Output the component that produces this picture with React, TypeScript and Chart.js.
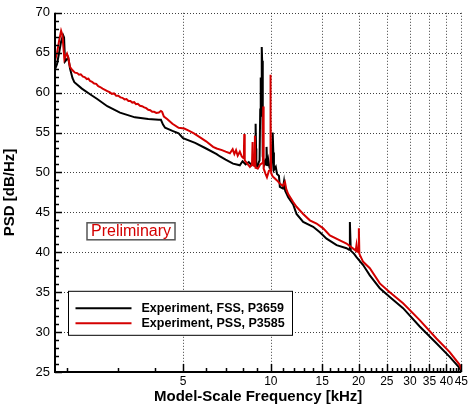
import React, { useEffect, useRef } from 'react';
import { Chart, registerables } from 'chart.js';

Chart.register(...registerables);

// ---- Data (frequency in kHz, PSD in dB/Hz) ----
const fssFreq = [
  1.82, 1.85, 1.88, 1.91, 1.94, 1.955, 1.97, 2.0, 2.02, 2.05, 2.09, 2.12, 2.25, 2.4, 2.54, 2.75, 3.04, 3.42, 3.8,
  4.13, 4.2, 4.27, 4.34, 4.6, 4.83, 5.0, 5.5, 6.0, 6.52, 6.7, 7.0, 7.42, 7.64, 7.83, 8.0, 8.2, 8.4, 8.6, 8.75,
  8.82, 8.85, 8.87, 8.9, 8.92, 9.0, 9.1, 9.15, 9.2, 9.22, 9.25, 9.28, 9.31, 9.34, 9.37, 9.4, 9.5, 9.6, 9.63, 9.67,
  9.72, 9.8, 9.9, 10.05, 10.12, 10.15, 10.2, 10.25, 10.4, 10.5, 10.66, 10.74, 11.0, 11.1, 11.2, 11.47, 11.93,
  12.25, 12.91, 13.97, 14.73, 15.53, 16.81, 18.18, 18.55, 18.67, 18.8, 19.3, 19.67, 20.73, 21.85, 23.64, 25.58,
  28.41, 32.4, 36.97, 41.06, 44.42, 45,
];
const fssPsd = [
  62.9, 63.6, 65.0, 66.4, 67.2, 66.9, 63.9, 64.2, 64.4, 63.0, 61.8, 61.3, 60.5, 59.8, 59.2, 58.3, 57.5, 56.9, 56.7,
  56.6, 56.6, 56.0, 55.6, 55.2, 54.9, 54.3, 53.7, 53.0, 52.3, 52.0, 51.6, 51.1, 51.0, 50.9, 51.4, 51.0, 51.3, 50.9, 51.2,
  51.5, 54.5, 56.1, 53.0, 51.0, 50.7, 51.3, 51.5, 58.0, 61.9, 57.0, 60.0, 65.7, 64.0, 56.0, 52.0, 51.0, 51.5, 51.0, 53.2,
  50.8, 51.6, 50.6, 50.4, 53.5, 55.0, 52.5, 50.3, 50.7, 49.8, 49.6, 48.2, 48.0, 48.9, 47.7, 46.9, 46.0,
  44.8, 43.8, 43.2, 42.5, 41.7, 40.9, 40.5, 40.3, 43.8, 40.2, 39.8, 39.4, 38.4, 37.1, 35.5, 34.4,
  33.0, 30.7, 28.6, 26.9, 25.5, 25.0,
];

const pssFreq = [
  1.82, 1.85, 1.88, 1.91, 1.93, 1.96, 1.98, 2.0, 2.02, 2.05, 2.09, 2.13, 2.17, 2.2, 2.23, 2.27, 2.3, 2.34, 2.37,
  2.4, 2.44, 2.48, 2.52, 2.56, 2.6, 2.65, 2.7, 2.75, 2.8, 2.85, 2.9, 2.95, 3.0, 3.05, 3.1, 3.15, 3.2, 3.25, 3.3,
  3.35, 3.4, 3.45, 3.5, 3.56, 3.62, 3.68, 3.74, 3.8, 3.86, 3.92, 3.98, 4.05, 4.13, 4.2, 4.24, 4.3, 4.41, 4.6,
  4.83, 5.05, 5.23, 5.45, 5.72, 6.0, 6.34, 6.52, 6.8, 7.0, 7.24, 7.4, 7.5, 7.6, 7.7, 7.83, 7.95, 8.05, 8.09,
  8.11, 8.13, 8.15, 8.3, 8.48, 8.62, 8.66, 8.7, 8.78, 8.82, 8.86, 9.03, 9.2, 9.38, 9.4, 9.42, 9.44, 9.46, 9.6,
  9.7, 9.85, 9.94, 9.96, 9.98, 10.0, 10.03, 10.15, 10.33, 10.5, 10.74, 11.0, 11.18, 11.3, 11.47, 11.93, 12.25,
  12.91, 13.61, 14.35, 15.12, 15.94, 17.25, 18.18, 19.41, 19.55, 19.67, 19.8, 19.97, 20.04, 20.12, 20.73,
  21.85, 23.64, 25.58, 28.41, 32.4, 36.97, 41.06, 44.42, 45,
];
const pssPsd = [
  64.0, 65.0, 66.5, 67.75, 67.2, 64.2, 64.6, 64.9, 64.4, 63.2, 62.8, 62.5, 62.45, 62.25, 62.3, 62.0, 61.95, 61.7, 61.75,
  61.45, 61.35, 61.15, 61.1, 60.8, 60.7, 60.5, 60.35, 60.2, 60.05, 59.85, 59.9, 59.6, 59.6, 59.4, 59.35, 59.15, 59.2, 58.95, 58.95,
  58.75, 58.8, 58.55, 58.6, 58.35, 58.3, 58.15, 58.05, 57.85, 57.8, 57.6, 57.6, 57.45, 57.5, 57.7, 57.6, 57.0, 56.7, 56.1,
  55.6, 55.5, 55.25, 54.9, 54.4, 53.9, 53.2, 53.0, 52.8, 52.6, 52.4, 52.9, 52.3, 52.8, 52.1, 52.6, 52.0, 51.8, 53.0,
  54.8, 52.5, 51.5, 51.1, 50.7, 51.0, 53.8, 50.9, 50.8, 54.6, 50.6, 50.5, 51.0, 51.2, 56.0, 58.25, 55.0, 50.5, 49.8,
  49.4, 50.2, 50.3, 58.0, 62.25, 57.0, 49.9, 49.5, 49.25, 49.0, 48.6, 48.3, 48.8, 47.9, 47.3, 46.3, 45.7,
  44.8, 44.0, 43.6, 43.0, 42.1, 41.5, 41.1, 40.3, 40.2, 40.9, 40.1, 40.0, 43.0, 39.8, 38.8,
  38.0, 36.1, 35.0, 33.6, 31.5, 29.2, 27.5, 25.9, 25.3,
];

const seriesLabels = ['Experiment, FSS, P3659', 'Experiment, PSS, P3585'];
const seriesColors = ['#000000', '#d40000'];

const xMin = 1.82;
const xMax = 45;
const yMin = 25;
const yMax = 70;
const xLabelTicks = [5, 10, 15, 20, 25, 30, 35, 40, 45];
const xMinorTicks = [2, 3, 4, 6, 7, 8, 9, 11, 12, 13, 14, 16, 17, 18, 19, 21, 22, 23, 24, 26, 27, 28, 29, 31, 32, 33, 34, 36, 37, 38, 39, 41, 42, 43, 44];
const yMajorTicks = [25, 30, 35, 40, 45, 50, 55, 60, 65, 70];
const yMinorTicks = [26, 27, 28, 29, 31, 32, 33, 34, 36, 37, 38, 39, 41, 42, 43, 44, 46, 47, 48, 49, 51, 52, 53, 54, 56, 57, 58, 59, 61, 62, 63, 64, 66, 67, 68, 69];

const xTitle = 'Model-Scale Frequency [kHz]';
const yTitle = 'PSD [dB/Hz]';
const watermark = 'Preliminary';

const FONT = '"Liberation Sans", Arial, Helvetica, sans-serif';

const decorPlugin = {
  id: 'decor',
  beforeDatasetsDraw(chart: any) {
    const { ctx, chartArea } = chart;
    const xs = chart.scales.x;
    const ys = chart.scales.y;
    ctx.save();
    ctx.strokeStyle = 'rgba(0,0,0,0.75)';
    ctx.lineWidth = 1;
    ctx.setLineDash([1, 2]);
    xLabelTicks.forEach((v) => {
      const px = Math.round(xs.getPixelForValue(v)) + 0.5;
      ctx.beginPath();
      ctx.moveTo(px, chartArea.top);
      ctx.lineTo(px, chartArea.bottom);
      ctx.stroke();
    });
    yMajorTicks.forEach((v) => {
      if (v === yMin) return;
      const py = Math.round(ys.getPixelForValue(v)) + 0.5;
      ctx.beginPath();
      ctx.moveTo(chartArea.left, py);
      ctx.lineTo(chartArea.right, py);
      ctx.stroke();
    });
    ctx.restore();
  },
  afterDatasetsDraw(chart: any) {
    const { ctx, chartArea } = chart;
    const xs = chart.scales.x;
    const ys = chart.scales.y;
    ctx.save();
    ctx.setLineDash([]);
    ctx.strokeStyle = '#000';
    ctx.lineWidth = 2;
    ctx.beginPath();
    ctx.moveTo(chartArea.left, chartArea.top);
    ctx.lineTo(chartArea.left, chartArea.bottom);
    ctx.lineTo(chartArea.right, chartArea.bottom);
    ctx.stroke();
    ctx.lineWidth = 1.5;
    const yTick = (v: number, len: number) => {
      const py = Math.round(ys.getPixelForValue(v)) + 0.5;
      ctx.beginPath();
      ctx.moveTo(chartArea.left, py);
      ctx.lineTo(chartArea.left + len, py);
      ctx.stroke();
    };
    const xTick = (v: number, len: number) => {
      const px = Math.round(xs.getPixelForValue(v)) + 0.5;
      ctx.beginPath();
      ctx.moveTo(px, chartArea.bottom);
      ctx.lineTo(px, chartArea.bottom - len);
      ctx.stroke();
    };
    yMajorTicks.forEach((v) => yTick(v, 7));
    yMinorTicks.forEach((v) => yTick(v, 4));
    xLabelTicks.forEach((v) => xTick(v, 8));
    xMinorTicks.forEach((v) => xTick(v, 4));

    // watermark
    ctx.font = `16px ${FONT}`;
    const wx = chartArea.left + 32;
    const wy = chartArea.top + 210;
    const ww = ctx.measureText(watermark).width;
    ctx.fillStyle = '#fff';
    ctx.fillRect(wx, wy, ww + 8, 17);
    ctx.strokeStyle = '#555';
    ctx.lineWidth = 1.5;
    ctx.strokeRect(wx, wy, ww + 8, 17);
    ctx.fillStyle = '#d40000';
    ctx.textBaseline = 'middle';
    ctx.textAlign = 'left';
    ctx.fillText(watermark, wx + 4, wy + 9);

    // legend
    const lx = chartArea.left + 13.5;
    const ly = chartArea.top + 278.5;
    const lw = 224;
    const lh = 44;
    ctx.fillStyle = '#fff';
    ctx.fillRect(lx, ly, lw, lh);
    ctx.strokeStyle = '#000';
    ctx.lineWidth = 1;
    ctx.strokeRect(lx, ly, lw, lh);
    ctx.font = `bold 12.5px ${FONT}`;
    seriesLabels.forEach((lab, i) => {
      const yy = ly + 17 + i * 15;
      ctx.strokeStyle = seriesColors[i];
      ctx.lineWidth = 2;
      ctx.beginPath();
      ctx.moveTo(lx + 7, yy);
      ctx.lineTo(lx + 63, yy);
      ctx.stroke();
      ctx.fillStyle = '#000';
      ctx.fillText(lab, lx + 73, yy);
    });
    ctx.restore();
  },
};

export default function App() {
  const canvasRef = useRef<HTMLCanvasElement | null>(null);

  useEffect(() => {
    if (!canvasRef.current) return;
    Chart.defaults.font.family = FONT;
    const fss = fssFreq.map((f, i) => ({ x: f, y: fssPsd[i] }));
    const pss = pssFreq.map((f, i) => ({ x: f, y: pssPsd[i] }));
    const chart = new Chart(canvasRef.current, {
      type: 'line',
      data: {
        datasets: [
          {
            label: seriesLabels[0],
            data: fss,
            borderColor: seriesColors[0],
            backgroundColor: seriesColors[0],
            borderWidth: 2,
            pointRadius: 0,
            tension: 0,
            order: 2,
          },
          {
            label: seriesLabels[1],
            data: pss,
            borderColor: seriesColors[1],
            backgroundColor: seriesColors[1],
            borderWidth: 2,
            pointRadius: 0,
            tension: 0,
            order: 1,
          },
        ],
      },
      options: {
        responsive: false,
        animation: false,
        events: [],
        layout: { padding: { top: 12, right: 8, left: 0, bottom: 0 } },
        plugins: { legend: { display: false }, tooltip: { enabled: false } },
        scales: {
          x: {
            type: 'logarithmic',
            min: xMin,
            max: xMax,
            grid: { display: false, drawTicks: false },
            border: { display: false },
            afterBuildTicks: (s: any) => {
              s.ticks = xLabelTicks.map((v) => ({ value: v }));
            },
            afterFit: (s: any) => {
              s.height = 40;
            },
            ticks: {
              autoSkip: false,
              maxRotation: 0,
              color: '#000',
              padding: 2,
              font: { size: 12 },
              callback: (v: any) => String(v),
            },
            title: {
              display: true,
              text: xTitle,
              color: '#000',
              font: { size: 15, weight: 'bold' },
              padding: { top: 0, bottom: 6 },
            },
          },
          y: {
            type: 'linear',
            min: yMin,
            max: yMax,
            grid: { display: false, drawTicks: false },
            border: { display: false },
            afterFit: (s: any) => {
              s.width = 55;
            },
            ticks: {
              stepSize: 5,
              color: '#000',
              padding: 5,
              font: { size: 13 },
            },
            title: {
              display: true,
              text: yTitle,
              color: '#000',
              font: { size: 15, weight: 'bold' },
              padding: { top: 1, bottom: 0 },
            },
          },
        },
      },
      plugins: [decorPlugin],
    } as any);
    return () => chart.destroy();
  }, []);

  return (
    <div style={{ position: 'absolute', left: 0, top: 0, width: 470, height: 412, background: '#fff' }}>
      <canvas ref={canvasRef} width={470} height={412} style={{ display: 'block' }} />
    </div>
  );
}
